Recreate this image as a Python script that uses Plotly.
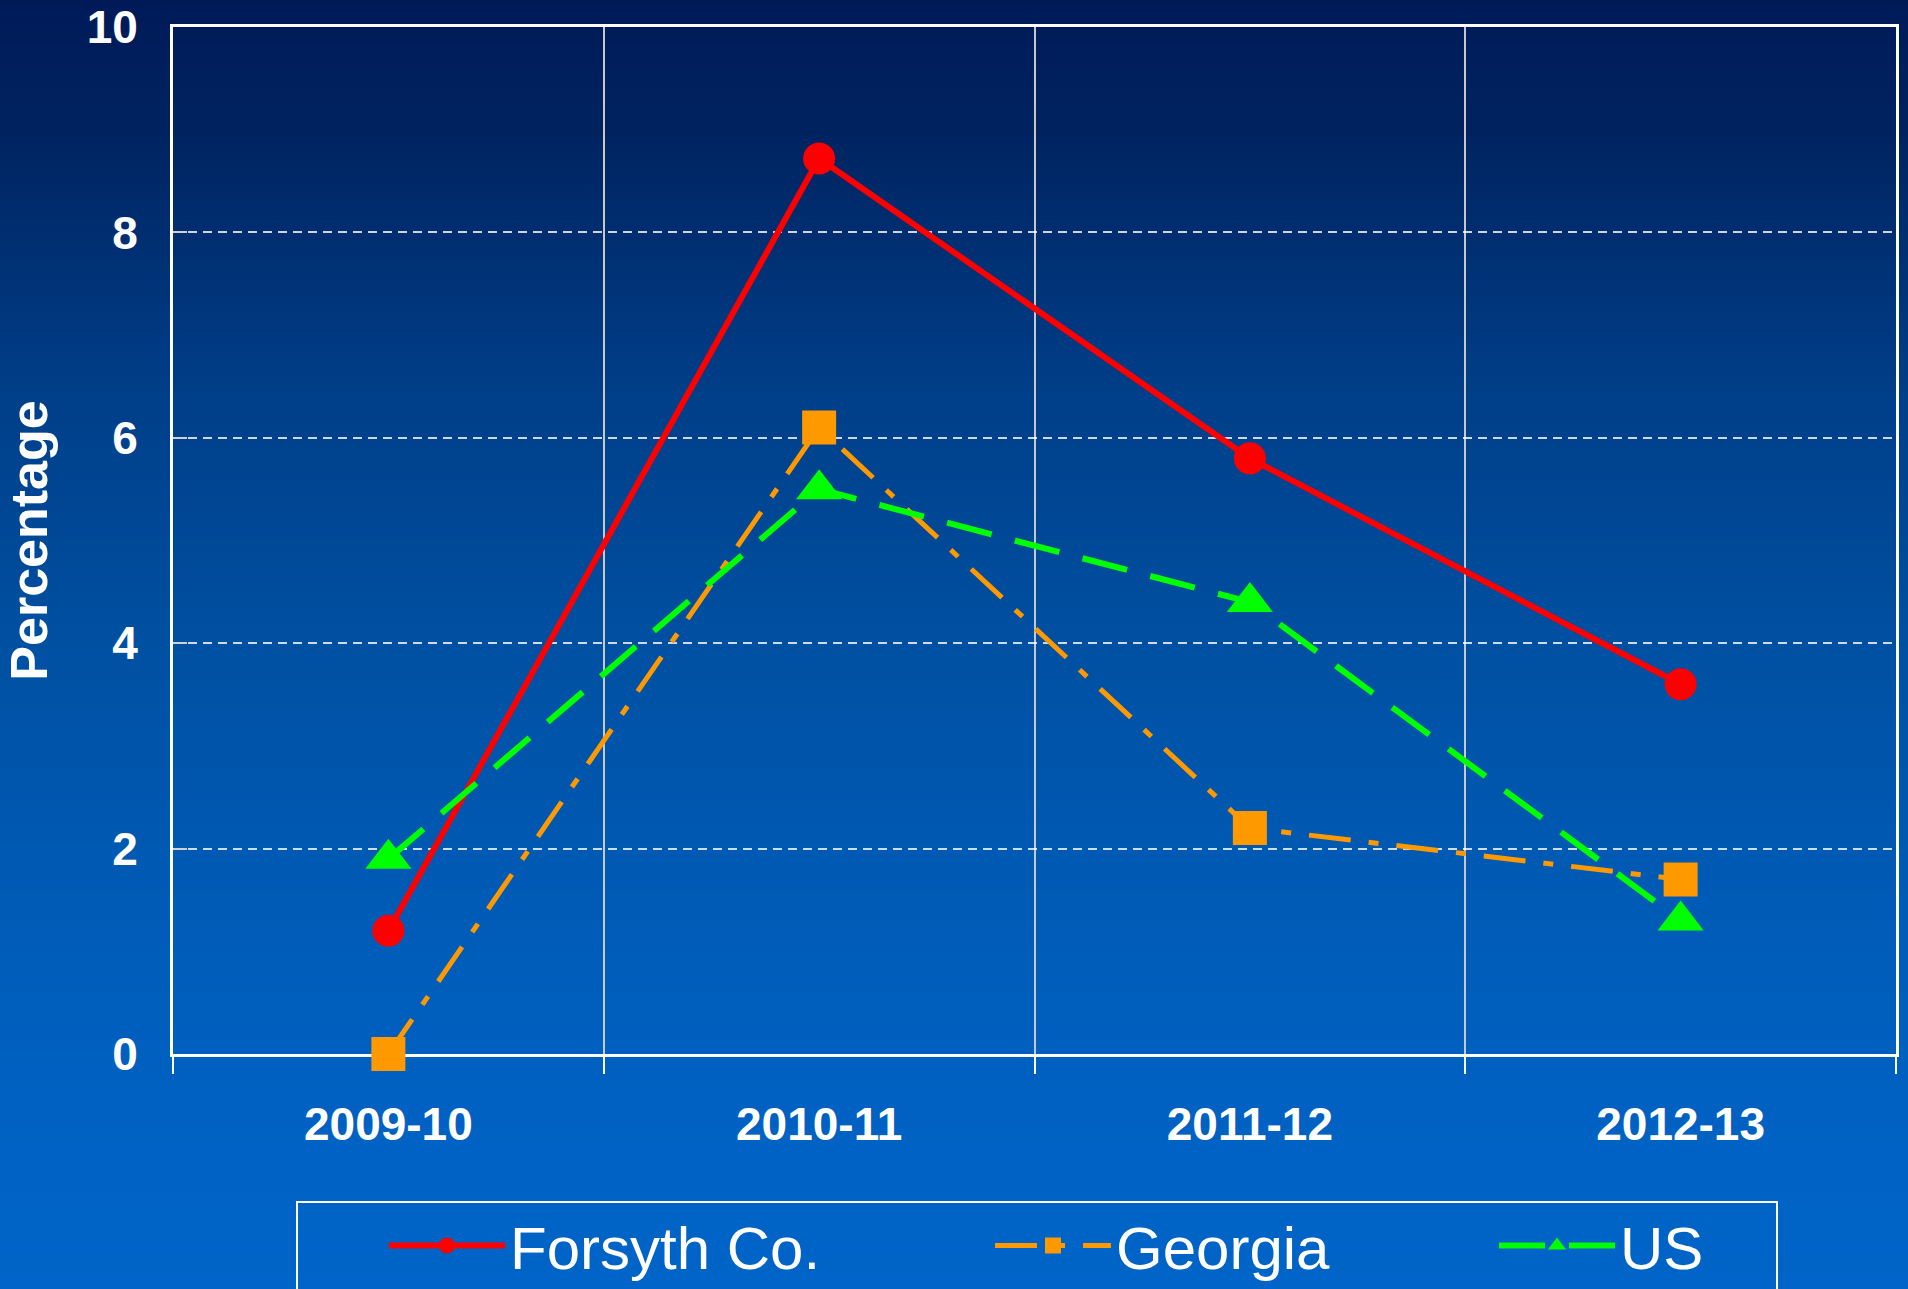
import plotly.graph_objects as go

# ---- data ----
years = ["2009-10", "2010-11", "2011-12", "2012-13"]
forsyth = [1.2, 8.72, 5.8, 3.6]
georgia = [0.0, 6.1, 2.2, 1.7]
us = [1.9, 5.5, 4.4, 1.3]
y_ticks = [0, 2, 4, 6, 8, 10]

# ---- geometry (pixels) ----
W, H = 1908, 1289
L, R, T, B = 173, 12, 27, 235
PW, PH = W - L - R, H - T - B


def px_x(px):
    return (px - L) / PW


def px_y(py):
    return (H - B - py) / PH


# background gradient stops (fraction of height from top, rgb)
stops = [
    (0.00, (0, 26, 88)),
    (0.10, (0, 35, 96)),
    (0.30, (0, 62, 136)),
    (0.50, (0, 80, 162)),
    (0.70, (0, 91, 182)),
    (0.85, (0, 97, 194)),
    (1.00, (0, 100, 200)),
]


def grad(f):
    for (f0, c0), (f1, c1) in zip(stops[:-1], stops[1:]):
        if f0 <= f <= f1:
            t = (f - f0) / (f1 - f0)
            return "rgb(%d,%d,%d)" % tuple(round(a + (b - a) * t) for a, b in zip(c0, c1))
    return "rgb(%d,%d,%d)" % stops[-1][1]


shapes = []
band = 8
for i in range(0, H, band):
    shapes.append(dict(
        type="rect", xref="paper", yref="paper", layer="below",
        x0=px_x(-5), x1=px_x(W + 5), y0=px_y(i + band + 1), y1=px_y(i),
        fillcolor=grad((i + band / 2) / H), line=dict(width=0),
    ))

# legend frame
shapes.append(dict(
    type="rect", xref="paper", yref="paper", layer="above",
    x0=px_x(297), x1=px_x(1777), y0=px_y(1310), y1=px_y(1202),
    fillcolor="rgba(0,0,0,0)", line=dict(color="white", width=2),
))

fig = go.Figure()
fig.add_trace(go.Scatter(
    x=years, y=forsyth, name="Forsyth Co.", mode="lines+markers",
    line=dict(color="#FF0000", width=6),
    marker=dict(symbol="circle", size=32, color="#FF0000"),
    cliponaxis=False, legend="legend",
))
fig.add_trace(go.Scatter(
    x=years, y=georgia, name="Georgia", mode="lines+markers",
    line=dict(color="#FF9900", width=5, dash="42px,18px,10px,18px"),
    marker=dict(symbol="square", size=34, color="#FF9900"),
    cliponaxis=False, legend="legend2",
))
fig.add_trace(go.Scatter(
    x=years, y=us, name="US", mode="lines+markers",
    line=dict(color="#00FF00", width=6, dash="46px,24px"),
    marker=dict(symbol="triangle-up", size=40, color="#00FF00"),
    cliponaxis=False, legend="legend3",
))

tick_font = dict(family="Liberation Sans, Arial, sans-serif", size=46, color="white", weight="bold")
legend_font = dict(family="Liberation Sans Narrow, Arial Narrow, Liberation Sans, sans-serif",
                   size=60, color="white")


def leg(px_left):
    return dict(
        orientation="h", x=px_x(px_left), xanchor="left", y=px_y(1200), yanchor="top",
        bgcolor="rgba(0,0,0,0)", borderwidth=0, font=legend_font, itemwidth=116,
    )


fig.update_layout(
    width=W, height=H,
    margin=dict(l=L, r=R, t=T, b=B, autoexpand=False),
    paper_bgcolor="rgb(0,70,150)",
    plot_bgcolor="rgba(0,0,0,0)",
    shapes=shapes,
    showlegend=True,
    legend=leg(384),
    legend2=leg(990),
    legend3=leg(1494),
    xaxis=dict(
        type="category", categoryorder="array", categoryarray=years,
        range=[-0.5, 3.5], tickson="boundaries",
        ticks="outside", ticklen=17, tickwidth=2, tickcolor="white",
        showgrid=True, gridcolor="#c8c8c8", gridwidth=2,
        showline=True, linecolor="white", linewidth=3, mirror=True,
        tickfont=tick_font, ticklabelstandoff=28, layer="below traces",
    ),
    yaxis=dict(
        range=[0, 10], tickvals=y_ticks, ticktext=[str(v) for v in y_ticks],
        ticks="inside", ticklen=14, tickwidth=2, tickcolor="#d0d0d0",
        showgrid=True, gridcolor="rgba(255,255,255,0.8)", gridwidth=1.5, griddash="9px,6px",
        zeroline=False,
        showline=True, linecolor="white", linewidth=3, mirror=True,
        tickfont=tick_font, ticklabelstandoff=23,
        title=dict(text="Percentage", standoff=26,
                   font=dict(family="Liberation Sans, Arial, sans-serif", size=52,
                             color="white", weight="bold")),
        layer="below traces",
    ),
)

fig.write_html(
    "out.html",
    config={"displayModeBar": False},
    post_script="document.body.style.margin='0';document.body.style.overflow='hidden';",
)
